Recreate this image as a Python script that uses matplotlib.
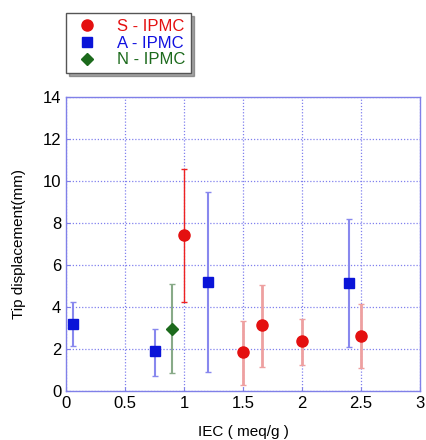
import matplotlib
matplotlib.use("Agg")
import matplotlib.pyplot as plt
import numpy as np

plt.rcParams['font.family'] = ['Liberation Sans', 'DejaVu Sans']

s_x = [1.0, 1.5, 1.66, 2.0, 2.5]
s_y = [7.41, 1.84, 3.13, 2.38, 2.62]
s_hi = [10.56, 3.33, 5.06, 3.44, 4.16]
s_lo = [4.25, 0.29, 1.14, 1.24, 1.11]

a_x = [0.06, 0.75, 1.2, 2.4]
a_y = [3.2, 1.89, 5.2, 5.16]
a_hi = [4.24, 2.98, 9.49, 8.17]
a_lo = [2.16, 0.73, 0.9, 2.08]

n_x = [0.9]
n_y = [2.98]
n_hi = [5.11]
n_lo = [0.86]

fig = plt.figure(figsize=(4.26, 4.40), dpi=100)
ax = fig.add_axes([0.155, 0.111, 0.831, 0.669])

def draw(x, y, lo, hi, ecol, mcol, marker, ms, lw, label):
    y = np.array(y); lo = np.array(lo); hi = np.array(hi)
    ax.errorbar(x, y, yerr=[y - lo, hi - y], fmt='none', ecolor=ecol,
                elinewidth=lw, capsize=2, capthick=1, zorder=3)
    ax.plot(x, y, linestyle='none', marker=marker, color=mcol, ms=ms,
            mec=mcol, zorder=4, label=label)

ax.errorbar(s_x[:1], s_y[:1], yerr=[[s_y[0]-s_lo[0]], [s_hi[0]-s_y[0]]],
            fmt='none', ecolor='#ee2222', elinewidth=1, capsize=2, zorder=3)
ax.errorbar(s_x[1:], s_y[1:],
            yerr=[np.array(s_y[1:]) - np.array(s_lo[1:]), np.array(s_hi[1:]) - np.array(s_y[1:])],
            fmt='none', ecolor='#eea0a0', elinewidth=2, capsize=2, zorder=3)
ax.plot(s_x, s_y, linestyle='none', marker='o', color='#e41010', ms=8, zorder=4, label='S - IPMC')

draw(a_x, a_y, a_lo, a_hi, '#8888ee', '#0a14d8', 's', 7.5, 1.5, 'A - IPMC')
draw(n_x, n_y, n_lo, n_hi, '#88aa88', '#1c6a1c', 'D', 6, 1.5, 'N - IPMC')

ax.set_xlim(0, 3)
ax.set_ylim(0, 14)
ax.set_xticks([0, 0.5, 1, 1.5, 2, 2.5, 3])
ax.set_xticklabels(['0', '0.5', '1', '1.5', '2', '2.5', '3'])
ax.set_yticks(range(0, 15, 2))
ax.grid(True, color='#8080ee', linestyle=(0, (1, 1.5)), linewidth=0.9)
for sp in ax.spines.values():
    sp.set_color('#8080e8')
    sp.set_linewidth(1)
ax.tick_params(direction='in', colors='#8080e8', labelcolor='black', labelsize=12, length=3)
ax.set_xlabel('IEC ( meq/g )', fontsize=11, labelpad=10)
ax.set_ylabel('Tip displacement(mm)', fontsize=11, labelpad=12)

leg = fig.legend(loc='upper left', bbox_to_anchor=(0.155, 0.97), borderaxespad=0,
                 frameon=True, fancybox=False, shadow=True, fontsize=12,
                 handletextpad=0.9, borderpad=0.35, labelspacing=0.1,
                 handlelength=1.8, markerscale=1.0)
leg.get_frame().set_edgecolor('#555555')
for t, c in zip(leg.get_texts(), ['#e41010', '#1010e0', '#1c6a1c']):
    t.set_color(c)

fig.savefig('out.png', dpi=100)
